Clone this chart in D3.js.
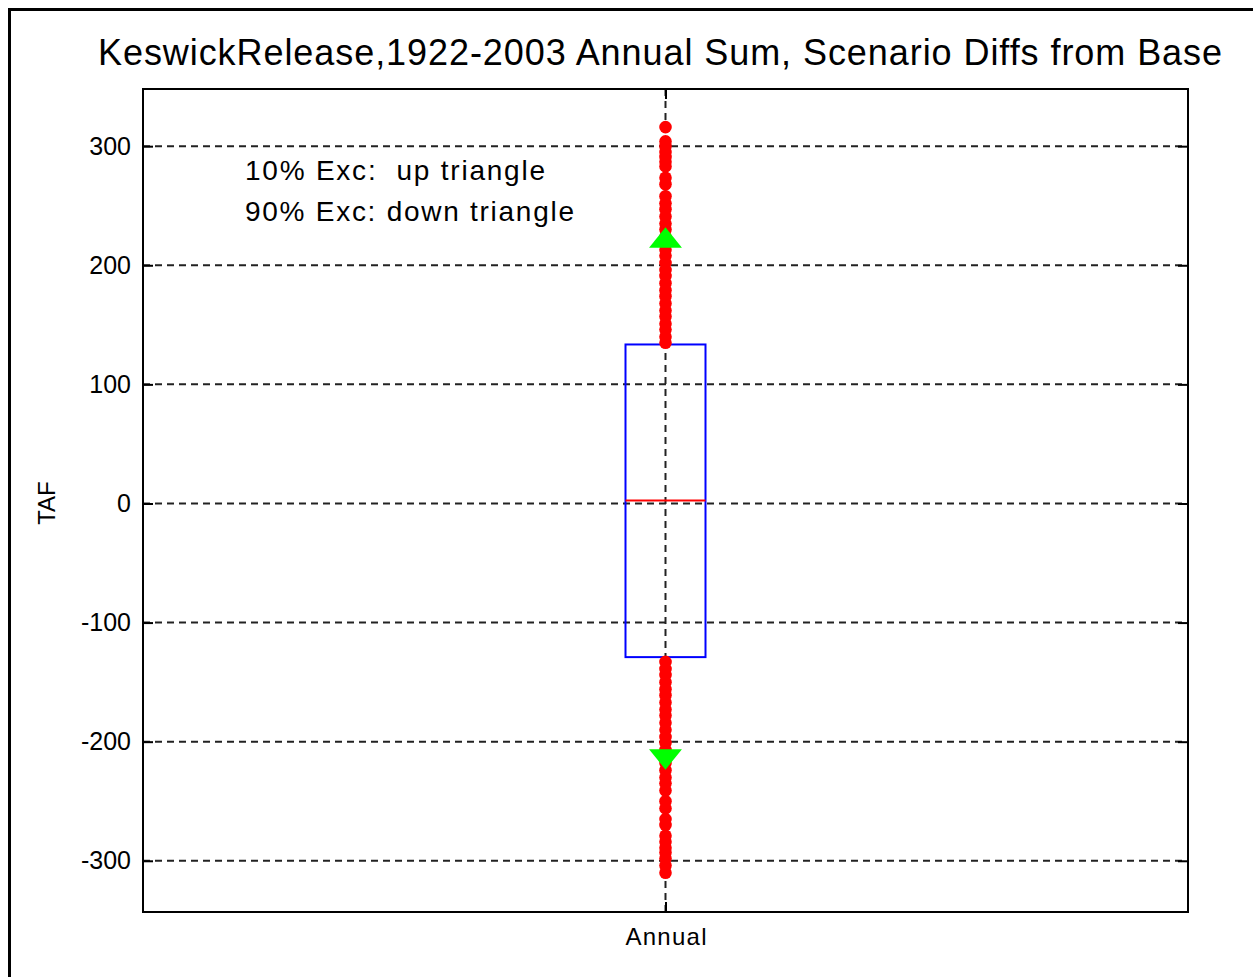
<!DOCTYPE html>
<html>
<head>
  <meta charset="utf-8">
  <script src="https://cdnjs.cloudflare.com/ajax/libs/d3/7.8.5/d3.min.js"></script>
  <style>
    body { margin: 0; background: #fff; }
    text { font-family: "Liberation Sans", Arial, sans-serif; fill: #000; }
  </style>
</head>
<body>
<div id="chart"></div>
<script>
  // data
  var categories = ["Annual"];
  var yTicks = [-300, -200, -100, 0, 100, 200, 300];
  var boxQ1 = [-129];
  var boxQ3 = [133.5];
  var boxMedian = [2.5];
  var exc10 = [220.5];   // up triangle
  var exc90 = [-212];    // down triangle
  var upperPoints = [316, 304, 300, 295, 291, 287, 283, 273.5, 268, 258, 252, 247, 241, 235, 230,
    224, 218, 213, 208, 202, 196, 191, 185, 179, 174, 168, 162, 157, 151, 146, 140, 135];
  var lowerPoints = [-133, -139, -144, -150, -156, -161, -167, -173, -178, -184, -190, -196, -201,
    -207, -213, -218, -224, -230, -235, -241, -250, -256, -265, -270, -279, -284, -289, -293,
    -298, -304, -310];

  var W = 1253, H = 977;
  var pLeft = 143, pRight = 1188, pTop = 89, pBottom = 912;

  var svg = d3.select("#chart").append("svg")
    .attr("width", W)
    .attr("height", H);

  // outer frame
  svg.append("rect")
    .attr("x", 9.5).attr("y", 9.5)
    .attr("width", W + 20).attr("height", H + 20)
    .attr("fill", "none").attr("stroke", "#000").attr("stroke-width", 3);

  var y = d3.scaleLinear().domain([-343, 348]).range([pBottom, pTop]);
  var x = d3.scalePoint().domain(categories).range([pLeft, pRight]).padding(0.5);

  // grid lines
  var grid = svg.append("g");
  grid.selectAll("line.h")
    .data(yTicks)
    .enter().append("line")
    .attr("class", "h")
    .attr("x1", pLeft).attr("x2", pRight)
    .attr("y1", function(d) { return y(d); })
    .attr("y2", function(d) { return y(d); })
    .attr("stroke", "#222").attr("stroke-width", 2)
    .attr("stroke-dasharray", "7,5");
  grid.selectAll("line.v")
    .data(categories)
    .enter().append("line")
    .attr("class", "v")
    .attr("x1", function(d) { return x(d); })
    .attr("x2", function(d) { return x(d); })
    .attr("y1", pTop).attr("y2", pBottom)
    .attr("stroke", "#222").attr("stroke-width", 2)
    .attr("stroke-dasharray", "7,5");

  // axes (ticks inside)
  var yAxisL = d3.axisLeft(y).tickValues(yTicks).tickSize(-10).tickPadding(12)
    .tickFormat(function(d) { return String(d); });
  var yAxisR = d3.axisRight(y).tickValues(yTicks).tickSize(-10).tickFormat("");
  var xAxisB = d3.axisBottom(x).tickSize(-10).tickPadding(16);
  var xAxisT = d3.axisTop(x).tickSize(-10).tickFormat("");

  function styleAxis(g) {
    g.select(".domain").remove();
    g.selectAll(".tick line").attr("stroke", "#000").attr("stroke-width", 2);
    g.selectAll(".tick text").attr("font-size", 25).attr("fill", "#000");
  }

  svg.append("g").attr("transform", "translate(" + pLeft + ",0)").call(yAxisL).call(styleAxis);
  svg.append("g").attr("transform", "translate(" + pRight + ",0)").call(yAxisR).call(styleAxis);
  svg.append("g").attr("transform", "translate(0," + pBottom + ")").call(xAxisB).call(styleAxis)
    .selectAll(".tick text").attr("font-size", 24).attr("textLength", 81);
  svg.append("g").attr("transform", "translate(0," + pTop + ")").call(xAxisT).call(styleAxis);

  // plot box
  svg.append("rect")
    .attr("x", pLeft).attr("y", pTop)
    .attr("width", pRight - pLeft).attr("height", pBottom - pTop)
    .attr("fill", "none").attr("stroke", "#000").attr("stroke-width", 2);

  var cx = x(categories[0]);
  var boxW = 80;

  // box
  svg.selectAll("rect.box")
    .data(categories)
    .enter().append("rect")
    .attr("class", "box")
    .attr("x", function(d) { return x(d) - boxW / 2; })
    .attr("y", function(d, i) { return y(boxQ3[i]); })
    .attr("width", boxW)
    .attr("height", function(d, i) { return y(boxQ1[i]) - y(boxQ3[i]); })
    .attr("fill", "none").attr("stroke", "#0000ff").attr("stroke-width", 2);

  svg.selectAll("line.med")
    .data(boxMedian)
    .enter().append("line")
    .attr("class", "med")
    .attr("x1", cx - boxW / 2).attr("x2", cx + boxW / 2)
    .attr("y1", function(d) { return y(d); })
    .attr("y2", function(d) { return y(d); })
    .attr("stroke", "#ff0000").attr("stroke-width", 2);

  // outlier dots
  svg.append("g").selectAll("circle")
    .data(upperPoints.concat(lowerPoints))
    .enter().append("circle")
    .attr("cx", cx)
    .attr("cy", function(d) { return y(d); })
    .attr("r", 6.3)
    .attr("fill", "#ff0000");

  // exceedance triangles
  var tri = d3.symbol().type(d3.symbolTriangle).size(300);
  svg.selectAll("path.up")
    .data(exc10)
    .enter().append("path")
    .attr("class", "up")
    .attr("d", tri)
    .attr("transform", function(d) { return "translate(" + cx + "," + y(d) + ") scale(1.25,0.9)"; })
    .attr("fill", "#00ff00");
  svg.selectAll("path.down")
    .data(exc90)
    .enter().append("path")
    .attr("class", "down")
    .attr("d", tri)
    .attr("transform", function(d) { return "translate(" + cx + "," + y(d) + ") scale(1.25,-0.9)"; })
    .attr("fill", "#00ff00");

  // title
  svg.append("text")
    .attr("x", 98).attr("y", 65)
    .attr("font-size", 36)
    .attr("textLength", 1124)
    .text("KeswickRelease,1922-2003 Annual Sum, Scenario Diffs from Base");

  // y label
  svg.append("text")
    .attr("transform", "translate(55,503) rotate(-90)")
    .attr("text-anchor", "middle")
    .attr("font-size", 24)
    .text("TAF");

  // annotation
  svg.append("text")
    .attr("x", 245).attr("y", 180)
    .attr("font-size", 28)
    .attr("textLength", 300)
    .style("white-space", "pre")
    .text("10% Exc:  up triangle");
  svg.append("text")
    .attr("x", 245).attr("y", 221)
    .attr("font-size", 28)
    .attr("textLength", 329)
    .style("white-space", "pre")
    .text("90% Exc: down triangle");
</script>
</body>
</html>
